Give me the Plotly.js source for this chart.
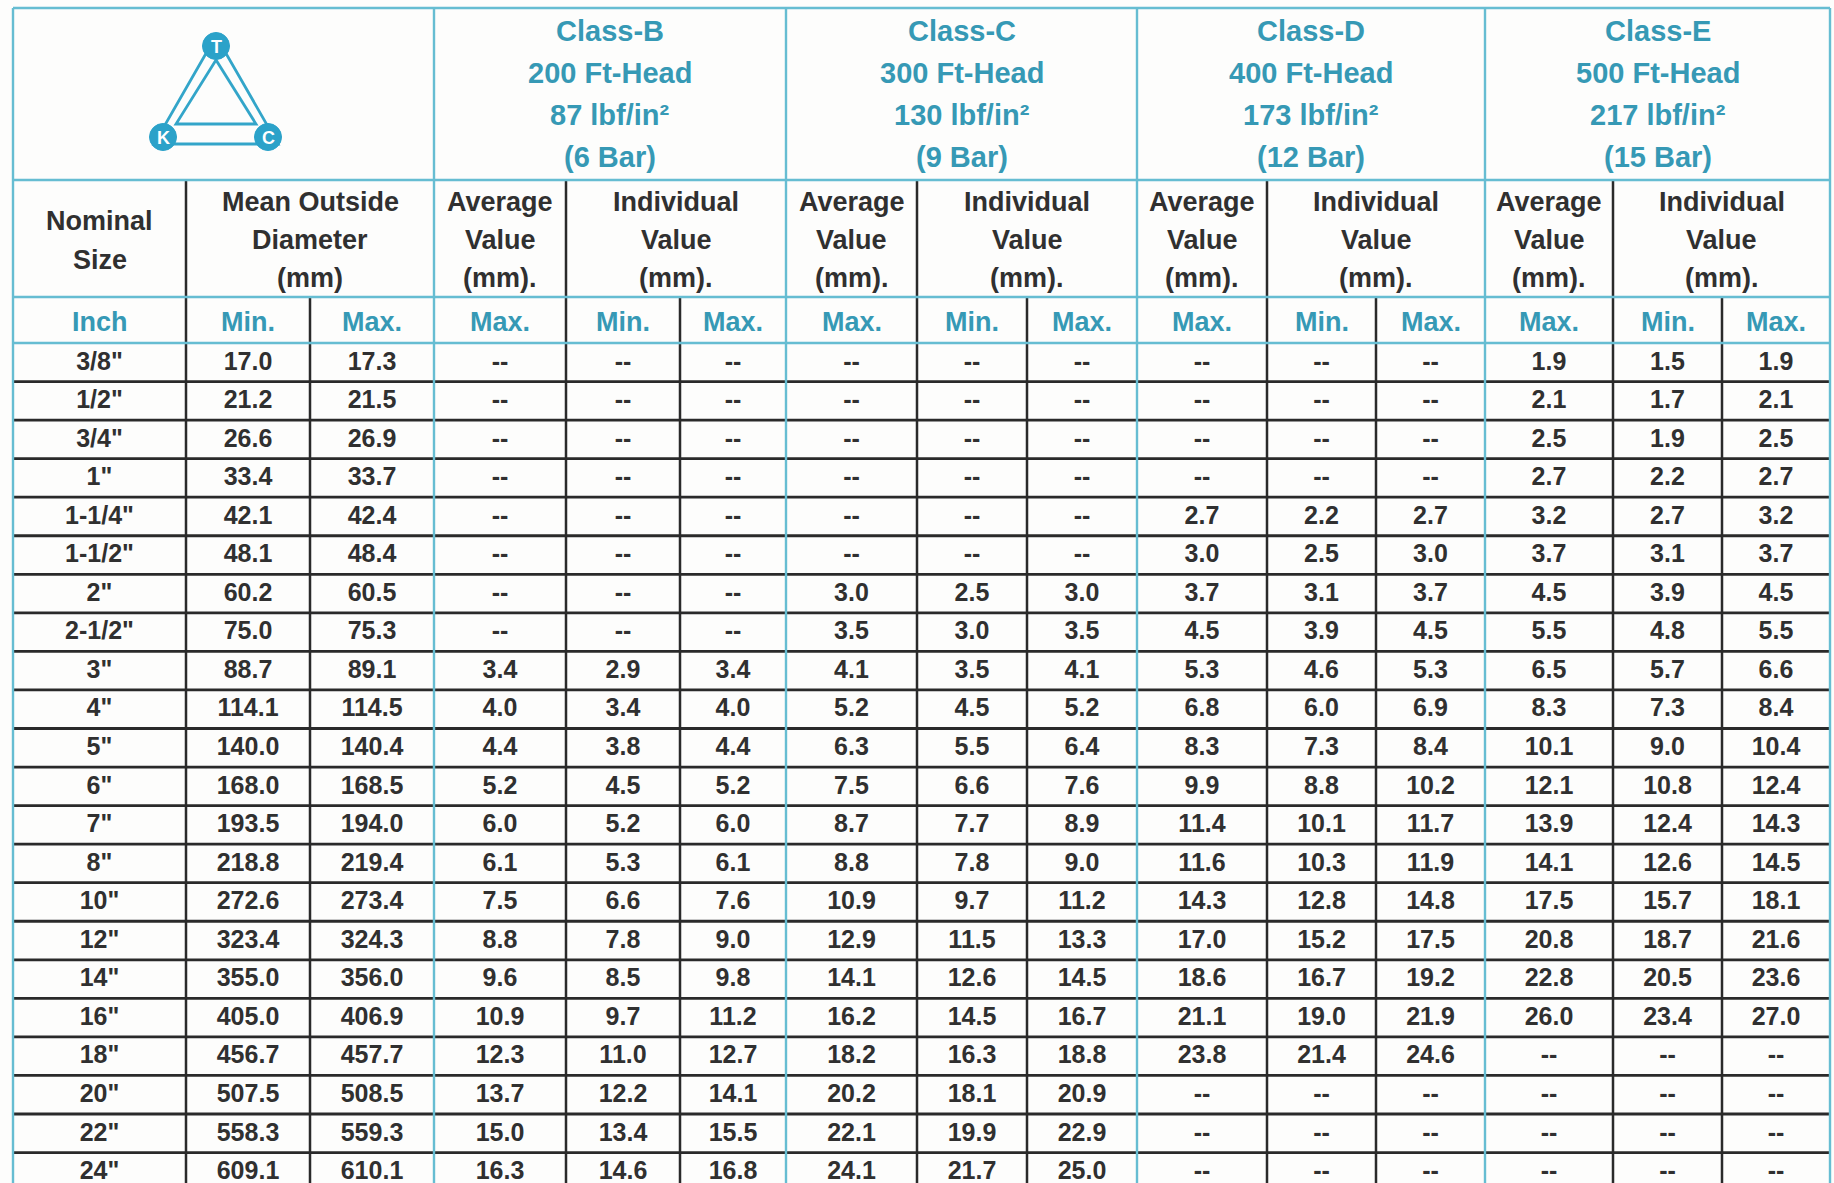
<!DOCTYPE html>
<html>
<head>
<meta charset="utf-8">
<script src="https://cdn.plot.ly/plotly-3.0.1.min.js"></script>
<style>html,body{margin:0;padding:0;background:#fdfdfc;}#chart{width:1834px;height:1183px;}</style>
</head>
<body>
<div id="chart"></div>
<script>
// ---------- DATA ----------
const sizes = ['3/8"','1/2"','3/4"','1"','1-1/4"','1-1/2"','2"','2-1/2"','3"','4"','5"','6"','7"','8"','10"','12"','14"','16"','18"','20"','22"','24"'];
const odMin = [17.0,21.2,26.6,33.4,42.1,48.1,60.2,75.0,88.7,114.1,140.0,168.0,193.5,218.8,272.6,323.4,355.0,405.0,456.7,507.5,558.3,609.1];
const odMax = [17.3,21.5,26.9,33.7,42.4,48.4,60.5,75.3,89.1,114.5,140.4,168.5,194.0,219.4,273.4,324.3,356.0,406.9,457.7,508.5,559.3,610.1];
const N = null;
const bAvgMax = [N,N,N,N,N,N,N,N,3.4,4.0,4.4,5.2,6.0,6.1,7.5,8.8,9.6,10.9,12.3,13.7,15.0,16.3];
const bIndMin = [N,N,N,N,N,N,N,N,2.9,3.4,3.8,4.5,5.2,5.3,6.6,7.8,8.5,9.7,11.0,12.2,13.4,14.6];
const bIndMax = [N,N,N,N,N,N,N,N,3.4,4.0,4.4,5.2,6.0,6.1,7.6,9.0,9.8,11.2,12.7,14.1,15.5,16.8];
const cAvgMax = [N,N,N,N,N,N,3.0,3.5,4.1,5.2,6.3,7.5,8.7,8.8,10.9,12.9,14.1,16.2,18.2,20.2,22.1,24.1];
const cIndMin = [N,N,N,N,N,N,2.5,3.0,3.5,4.5,5.5,6.6,7.7,7.8,9.7,11.5,12.6,14.5,16.3,18.1,19.9,21.7];
const cIndMax = [N,N,N,N,N,N,3.0,3.5,4.1,5.2,6.4,7.6,8.9,9.0,11.2,13.3,14.5,16.7,18.8,20.9,22.9,25.0];
const dAvgMax = [N,N,N,N,2.7,3.0,3.7,4.5,5.3,6.8,8.3,9.9,11.4,11.6,14.3,17.0,18.6,21.1,23.8,N,N,N];
const dIndMin = [N,N,N,N,2.2,2.5,3.1,3.9,4.6,6.0,7.3,8.8,10.1,10.3,12.8,15.2,16.7,19.0,21.4,N,N,N];
const dIndMax = [N,N,N,N,2.7,3.0,3.7,4.5,5.3,6.9,8.4,10.2,11.7,11.9,14.8,17.5,19.2,21.9,24.6,N,N,N];
const eAvgMax = [1.9,2.1,2.5,2.7,3.2,3.7,4.5,5.5,6.5,8.3,10.1,12.1,13.9,14.1,17.5,20.8,22.8,26.0,N,N,N,N];
const eIndMin = [1.5,1.7,1.9,2.2,2.7,3.1,3.9,4.8,5.7,7.3,9.0,10.8,12.4,12.6,15.7,18.7,20.5,23.4,N,N,N,N];
const eIndMax = [1.9,2.1,2.5,2.7,3.2,3.7,4.5,5.5,6.6,8.4,10.4,12.4,14.3,14.5,18.1,21.6,23.6,27.0,N,N,N,N];

const classNames = ['Class-B','Class-C','Class-D','Class-E'];
const ftHead = [200,300,400,500];
const psi = [87,130,173,217];
const bars = [6,9,12,15];
const subLabels = ['Inch','Min.','Max.','Max.','Min.','Max.','Max.','Min.','Max.','Max.','Min.','Max.','Max.','Min.','Max.'];
const logoLetters = ['T','K','C'];

// ---------- LAYOUT GEOMETRY ----------
const W = 1834, H = 1183;
const colEdges = [13,186,310,434,566,680,786,917,1027,1137,1267,1376,1485,1613,1722,1830];
const yTop = 8, yH1 = 180, yH2 = 297, yH3 = 343, rowH = 38.55;
const TEAL_TXT = '#3699b5', TEAL_LINE = '#66bdd2', DARK = '#2a2a2a', TXT = '#303030';
const FONT = 'Liberation Sans, Arial, Helvetica, sans-serif';
const cx = i => (colEdges[i] + colEdges[i+1]) / 2;
const yBottom = yH3 + sizes.length * rowH;

const columns = [sizes, odMin, odMax, bAvgMax, bIndMin, bIndMax, cAvgMax, cIndMin, cIndMax, dAvgMax, dIndMin, dIndMax, eAvgMax, eIndMin, eIndMax];

const bx = [], by = [], bt = [];
columns.forEach((col, c) => {
  col.forEach((v, r) => {
    bx.push(cx(c));
    by.push(yH3 + (r + 0.5) * rowH + 1);
    bt.push(v === null ? '--' : (typeof v === 'number' ? v.toFixed(1) : v));
  });
});

const traces = [{
  type: 'scatter', mode: 'text', x: bx, y: by, text: bt,
  textposition: 'middle center', cliponaxis: false, hoverinfo: 'skip',
  textfont: {family: FONT, size: 25, color: TXT, weight: 'bold'}
}];

// ---------- SHAPES (grid) ----------
const shapes = [];
function line(x0, y0, x1, y1, color, w) {
  shapes.push({type: 'line', xref: 'x', yref: 'y', x0, y0, x1, y1, line: {color, width: w}, layer: 'above'});
}
const L = colEdges[0], R = colEdges[colEdges.length - 1];
for (let k = 1; k <= sizes.length; k++) line(L, yH3 + k * rowH, R, yH3 + k * rowH, DARK, 2.8);
[1, 4, 7, 10, 13].forEach(i => line(colEdges[i], yH1, colEdges[i], yBottom, DARK, 2.5));
[2, 5, 8, 11, 14].forEach(i => line(colEdges[i], yH2, colEdges[i], yBottom, DARK, 2.5));
[yTop, yH1, yH2, yH3].forEach(y => line(L, y, R, y, TEAL_LINE, 2.4));
[0, 3, 6, 9, 12, 15].forEach(i => line(colEdges[i], yTop, colEdges[i], yBottom, TEAL_LINE, 2.4));

// ---------- LOGO ----------
const LOGO = '#33a5c9';
const logoPts = [[216, 46], [163, 137], [268, 137]];
shapes.push({type: 'path', xref: 'x', yref: 'y', path: 'M 216 36 L 154 144 L 278 144 Z', line: {color: LOGO, width: 2.8}, fillcolor: 'rgba(0,0,0,0)'});
shapes.push({type: 'path', xref: 'x', yref: 'y', path: 'M 216 60 L 176 124 L 256 124 Z', line: {color: LOGO, width: 2.8}, fillcolor: 'rgba(0,0,0,0)'});
logoPts.forEach(p => shapes.push({type: 'circle', xref: 'x', yref: 'y', x0: p[0]-13.5, x1: p[0]+13.5, y0: p[1]-13.5, y1: p[1]+13.5, fillcolor: '#2ba2c9', line: {color: '#2ba2c9', width: 1}}));

// ---------- ANNOTATIONS (headers) ----------
const ann = [];
function txt(x, y, text, size, color) {
  ann.push({xref: 'x', yref: 'y', x, y, text, showarrow: false, xanchor: 'center', yanchor: 'middle',
    font: {family: FONT, size, color, weight: 'bold'}});
}
logoLetters.forEach((l, i) => txt(logoPts[i][0], logoPts[i][1] + 1, l, 18, '#ffffff'));

classNames.forEach((name, g) => {
  const x = (colEdges[3 + 3*g] + colEdges[6 + 3*g]) / 2;
  const lines = [name, ftHead[g] + ' Ft-Head', psi[g] + ' lbf/in\u00B2', '(' + bars[g] + ' Bar)'];
  lines.forEach((t, k) => txt(x, 31 + k * 42, t, 29, TEAL_TXT));
});

const h2y = [202, 240, 278];
txt(cx(0), 221, 'Nominal', 27, TXT);
txt(cx(0), 260, 'Size', 27, TXT);
['Mean Outside', 'Diameter', '(mm)'].forEach((t, k) => txt((colEdges[1] + colEdges[3]) / 2, h2y[k], t, 27, TXT));
classNames.forEach((name, g) => {
  ['Average', 'Value', '(mm).'].forEach((t, k) => txt(cx(3 + 3*g), h2y[k], t, 27, TXT));
  ['Individual', 'Value', '(mm).'].forEach((t, k) => txt((colEdges[4 + 3*g] + colEdges[6 + 3*g]) / 2, h2y[k], t, 27, TXT));
});

subLabels.forEach((t, i) => txt(cx(i), 322, t, 27, TEAL_TXT));

const layout = {
  width: W, height: H,
  margin: {l: 0, r: 0, t: 0, b: 0, pad: 0},
  paper_bgcolor: '#fdfdfc', plot_bgcolor: '#fdfdfc',
  showlegend: false,
  xaxis: {range: [0, W], visible: false, fixedrange: true},
  yaxis: {range: [H, 0], visible: false, fixedrange: true},
  shapes, annotations: ann
};

Plotly.newPlot('chart', traces, layout, {staticPlot: true, displayModeBar: false});
</script>
</body>
</html>
